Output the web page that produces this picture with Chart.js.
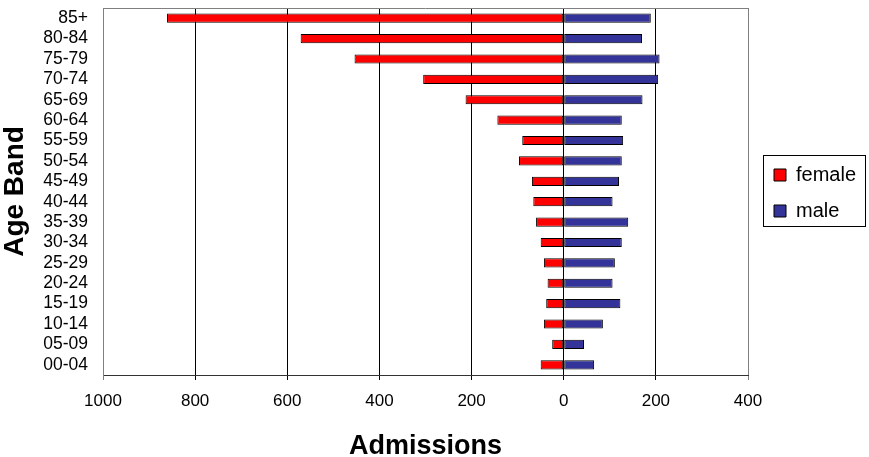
<!DOCTYPE html>
<html>
<head>
<meta charset="utf-8">
<script src="https://cdn.jsdelivr.net/npm/chart.js@4/dist/chart.umd.min.js"></script>
<style>
  html, body { margin: 0; padding: 0; background: #fff; }
  #wrap { width: 869px; height: 457px; }
</style>
</head>
<body>
<div id="wrap"><canvas id="pyramid" width="869" height="457"></canvas></div>
<script>
const ageBands = ['85+', '80-84', '75-79', '70-74', '65-69', '60-64', '55-59', '50-54', '45-49',
                  '40-44', '35-39', '30-34', '25-29', '20-24', '15-19', '10-14', '05-09', '00-04'];
// female counts are negative so they go to the left of zero
const female = [-861, -571, -454, -305, -213, -144, -90, -97, -69, -66, -60, -50, -43, -35, -38, -43, -25, -50];
const male = [189, 170, 208, 205, 171, 126, 129, 126, 120, 106, 140, 126, 111, 106, 123, 85, 44, 66];
const xTicks = [-1000, -800, -600, -400, -200, 0, 200, 400];

const FONT = "'Liberation Sans', Arial, sans-serif";

// fixed legend column width, then nudge the legend into its spot
const legendPlace = {
    id: 'legendPlace',
    afterInit(chart) {
        const lg = chart.legend;
        const fit = lg.fit.bind(lg);
        lg.fit = function () {
            fit();
            this.width = 121;
        };
    },
    afterLayout(chart) {
        const lg = chart.legend;
        const h = lg.bottom - lg.top;
        lg.left += 10;
        lg.right += 10;
        lg.top = 149;
        lg.bottom = 149 + h;
    }
};

// gray line on top of the plot, black box round the legend
const framePlugin = {
    id: 'frame',
    afterDraw(chart) {
        const ctx = chart.ctx;
        const a = chart.chartArea;
        ctx.save();
        ctx.strokeStyle = '#808080';
        ctx.lineWidth = 1;
        ctx.beginPath();
        ctx.moveTo(a.left, a.top + 0.5);
        ctx.lineTo(a.right, a.top + 0.5);
        ctx.stroke();
        ctx.strokeStyle = '#000';
        ctx.strokeRect(763.5, 155.5, 102, 71);
        ctx.restore();
    }
};

new Chart(document.getElementById('pyramid'), {
    type: 'bar',
    data: {
        labels: ageBands,
        datasets: [{
            label: 'female',
            data: female,
            backgroundColor: '#ff0000',
            borderColor: '#000',
            borderWidth: 1,
            borderSkipped: false
        }, {
            label: 'male',
            data: male,
            backgroundColor: '#333399',
            borderColor: '#000',
            borderWidth: 1,
            borderSkipped: false
        }]
    },
    options: {
        indexAxis: 'y',
        responsive: false,
        animation: false,
        layout: { padding: { top: 8, right: 0, left: 0, bottom: 0 } },
        datasets: { bar: { categoryPercentage: 0.9, barPercentage: 0.5 } },
        scales: {
            x: {
                stacked: true,
                min: -1000,
                max: 400,
                afterBuildTicks(scale) {
                    scale.ticks = xTicks.map(v => ({ value: v }));
                },
                afterFit(scale) { scale.height = 82; },
                grid: {
                    color: ctx => (ctx.tick && (ctx.tick.value === -1000 || ctx.tick.value === 400)) ? '#808080' : '#000',
                    lineWidth: 1,
                    drawTicks: true,
                    tickLength: 5
                },
                border: { color: '#333', width: 1 },
                ticks: {
                    color: '#000',
                    font: { family: FONT, size: 17 },
                    padding: 11,
                    maxRotation: 0,
                    callback: v => Math.abs(v)
                },
                title: {
                    display: true,
                    text: 'Admissions',
                    color: '#000',
                    font: { family: FONT, size: 27, weight: 'bold', lineHeight: 0.75 },
                    padding: { top: 0, bottom: 0 }
                }
            },
            y: {
                stacked: true,
                grid: { display: false, drawTicks: false },
                border: { color: '#808080', width: 1 },
                ticks: {
                    color: '#000',
                    font: { family: FONT, size: 17.5 },
                    padding: 15,
                    autoSkip: false
                },
                title: {
                    display: true,
                    text: 'Age Band',
                    color: '#000',
                    font: { family: FONT, size: 28, weight: 'bold', lineHeight: 1.1 },
                    padding: { top: 0, bottom: 0 }
                },
                afterFit(scale) {
                    scale.width = 103;
                    scale.paddingTop = 0;
                    scale.paddingBottom = 0;
                }
            }
        },
        plugins: {
            legend: {
                position: 'right',
                align: 'start',
                labels: {
                    color: '#000',
                    font: { family: FONT, size: 20 },
                    boxWidth: 12,
                    boxHeight: 12,
                    padding: 16
                }
            },
            tooltip: { enabled: false }
        }
    },
    plugins: [legendPlace, framePlugin]
});
</script>
</body>
</html>
